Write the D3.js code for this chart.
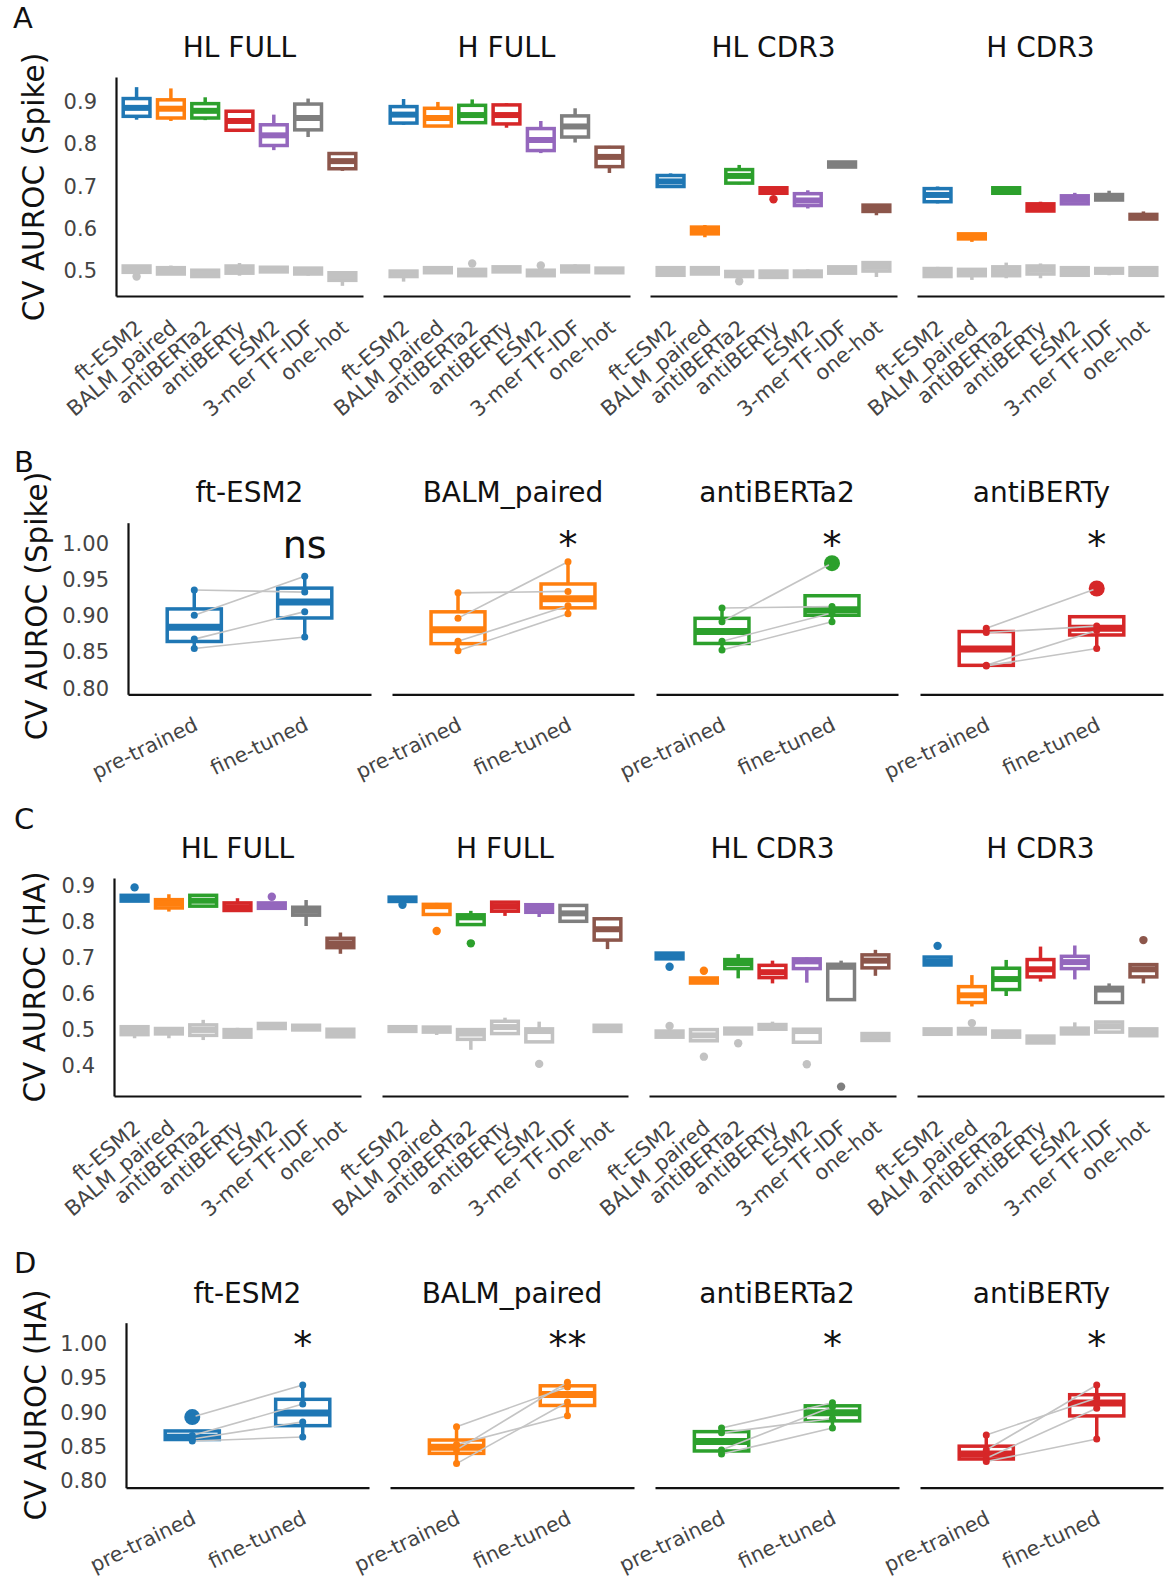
<!DOCTYPE html>
<html><head><meta charset="utf-8">
<script src="https://cdn.jsdelivr.net/npm/d3@7"></script>
<style>body{margin:0;background:#fff}svg text{font-family:"DejaVu Sans",sans-serif}</style>
</head><body><svg id="c" width="1171" height="1585"></svg>
<script>
// ---------------- DATA ----------------
const models = ["ft-ESM2","BALM_paired","antiBERTa2","antiBERTy","ESM2","3-mer TF-IDF","one-hot"];
const regions = ["HL FULL","H FULL","HL CDR3","H CDR3"];
const palette = ["#1f77b4","#ff7f0e","#2ca02c","#d62728","#9467bd","#7f7f7f","#8c564b"];
const nullColor = "#c2c2c2";
const lmModels = ["ft-ESM2","BALM_paired","antiBERTa2","antiBERTy"];
const stages = ["pre-trained","fine-tuned"];
const spikeTicks = [0.5,0.6,0.7,0.8,0.9];
const haTicks = [0.4,0.5,0.6,0.7,0.8,0.9];
const pairTicks = [0.80,0.85,0.90,0.95,1.00];

// box summaries: [low whisker, q1, median, q3, high whisker, outliers]
// Panel A (Spike), real labels
const spikeHLFull = [[0.858,0.866,0.886,0.908,0.935,[]],[0.855,0.862,0.884,0.905,0.932,[]],[0.857,0.862,0.879,0.896,0.911,[]],[0.830,0.833,0.855,0.878,0.880,[]],[0.786,0.797,0.821,0.846,0.870,[]],[0.817,0.834,0.862,0.895,0.908,[]],[0.737,0.742,0.760,0.778,0.781,[]]];
const spikeHFull = [[0.846,0.850,0.870,0.889,0.907,[]],[0.843,0.843,0.862,0.885,0.900,[]],[0.851,0.851,0.869,0.892,0.906,[]],[0.839,0.848,0.869,0.893,0.897,[]],[0.779,0.785,0.810,0.837,0.855,[]],[0.804,0.817,0.842,0.867,0.885,[]],[0.732,0.747,0.770,0.793,0.796,[]]];
const spikeHLCDR3 = [[0.700,0.700,0.712,0.726,0.731,[]],[0.580,0.588,0.596,0.604,0.609,[]],[0.705,0.708,0.725,0.740,0.751,[]],[0.683,0.684,0.690,0.697,0.698,[0.670]],[0.648,0.655,0.667,0.683,0.691,[]],[0.745,0.746,0.752,0.758,0.759,[]],[0.632,0.641,0.648,0.656,0.657,[]]];
const spikeHCDR3 = [[0.660,0.664,0.680,0.695,0.700,[]],[0.569,0.576,0.581,0.588,0.589,[]],[0.683,0.684,0.690,0.697,0.698,[]],[0.641,0.642,0.650,0.659,0.664,[]],[0.658,0.659,0.669,0.678,0.685,[]],[0.667,0.668,0.675,0.681,0.690,[]],[0.622,0.623,0.629,0.634,0.641,[]]];
// Panel A (Spike), shuffled-label null
const spikeHLFullNull = [[0.497,0.497,0.505,0.512,0.512,[0.487]],[0.493,0.493,0.500,0.508,0.513,[]],[0.486,0.487,0.494,0.502,0.503,[]],[0.489,0.495,0.503,0.512,0.519,[]],[0.497,0.498,0.503,0.509,0.511,[]],[0.489,0.493,0.500,0.507,0.508,[]],[0.465,0.478,0.487,0.496,0.497,[]]];
const spikeHFullNull = [[0.475,0.487,0.494,0.500,0.502,[]],[0.495,0.496,0.502,0.508,0.509,[]],[0.488,0.489,0.497,0.504,0.505,[0.518]],[0.497,0.498,0.504,0.510,0.511,[]],[0.488,0.489,0.495,0.502,0.503,[0.513]],[0.497,0.498,0.506,0.512,0.516,[]],[0.495,0.496,0.501,0.507,0.508,[]]];
const spikeHLCDR3Null = [[0.487,0.490,0.498,0.508,0.510,[]],[0.492,0.493,0.500,0.508,0.509,[]],[0.486,0.487,0.493,0.499,0.500,[0.476]],[0.484,0.485,0.492,0.500,0.501,[]],[0.486,0.487,0.492,0.500,0.504,[]],[0.494,0.495,0.502,0.510,0.511,[]],[0.486,0.500,0.510,0.520,0.522,[]]];
const spikeHCDR3Null = [[0.486,0.487,0.496,0.506,0.510,[]],[0.479,0.489,0.496,0.504,0.505,[]],[0.483,0.489,0.500,0.510,0.520,[]],[0.483,0.493,0.503,0.512,0.518,[]],[0.489,0.490,0.499,0.508,0.509,[]],[0.490,0.495,0.500,0.506,0.507,[]],[0.489,0.490,0.499,0.508,0.509,[]]];
// Panel C (HA), real labels
const haHLFull = [[0.857,0.857,0.866,0.873,0.875,[0.895]],[0.828,0.838,0.850,0.861,0.876,[]],[0.843,0.843,0.858,0.873,0.876,[]],[0.831,0.831,0.840,0.852,0.865,[]],[0.837,0.837,0.845,0.852,0.853,[0.869]],[0.788,0.818,0.830,0.840,0.860,[]],[0.711,0.728,0.740,0.754,0.770,[]]];
const haHFull = [[0.855,0.856,0.862,0.868,0.869,[0.847]],[0.820,0.820,0.843,0.848,0.852,[0.774]],[0.792,0.792,0.812,0.819,0.830,[0.740]],[0.816,0.829,0.842,0.854,0.856,[]],[0.813,0.826,0.838,0.847,0.848,[]],[0.800,0.801,0.823,0.845,0.846,[]],[0.724,0.749,0.779,0.808,0.812,[]]];
const haHLCDR3 = [[0.697,0.697,0.705,0.713,0.714,[0.675]],[0.630,0.630,0.637,0.644,0.645,[0.664]],[0.643,0.670,0.685,0.695,0.710,[]],[0.629,0.645,0.660,0.679,0.692,[]],[0.631,0.670,0.690,0.697,0.701,[]],[0.584,0.584,0.675,0.682,0.692,[0.343]],[0.650,0.672,0.692,0.708,0.722,[]]];
const haHCDR3 = [[0.678,0.680,0.690,0.702,0.704,[0.733]],[0.565,0.576,0.596,0.620,0.652,[]],[0.594,0.612,0.641,0.671,0.694,[]],[0.634,0.647,0.668,0.695,0.731,[]],[0.640,0.670,0.688,0.704,0.734,[]],[0.576,0.576,0.612,0.618,0.629,[]],[0.629,0.647,0.668,0.681,0.685,[0.749]]];
// Panel C (HA), shuffled-label null (null = not shown)
const haHLFullNull = [[0.477,0.487,0.498,0.509,0.510,[]],[0.477,0.489,0.497,0.504,0.506,[]],[0.472,0.485,0.500,0.514,0.528,[]],[0.478,0.480,0.490,0.501,0.506,[]],[0.503,0.504,0.511,0.518,0.519,[]],[0.499,0.500,0.507,0.513,0.514,[]],[0.480,0.481,0.491,0.502,0.503,[]]];
const haHFullNull = [[0.495,0.496,0.503,0.509,0.510,[]],[0.486,0.494,0.500,0.508,0.509,[]],[0.445,0.474,0.490,0.501,0.502,[]],[0.489,0.490,0.508,0.524,0.534,[]],[0.466,0.467,0.497,0.503,0.523,[0.406]],null,[0.495,0.496,0.505,0.513,0.514,[]]];
const haHLCDR3Null = [[0.480,0.480,0.488,0.497,0.498,[0.511]],[0.470,0.470,0.485,0.501,0.505,[0.426]],[0.489,0.489,0.497,0.505,0.506,[0.463]],[0.502,0.502,0.510,0.515,0.523,[]],[0.466,0.466,0.497,0.502,0.503,[0.405]],null,[0.471,0.471,0.481,0.490,0.491,[]]];
const haHCDR3Null = [[0.486,0.488,0.496,0.503,0.504,[]],[0.488,0.489,0.497,0.504,0.505,[0.519]],[0.477,0.480,0.488,0.497,0.498,[]],[0.461,0.464,0.473,0.483,0.484,[]],[0.488,0.489,0.497,0.505,0.521,[]],[0.491,0.494,0.510,0.522,0.523,[]],[0.483,0.484,0.494,0.503,0.504,[]]];

// Panels B & D: per-fold CV AUROC, paired by index (pre-trained -> fine-tuned)
const spikePre  = [[0.936,0.901,0.868,0.855],[0.932,0.897,0.865,0.852],[0.911,0.892,0.865,0.853],[0.883,0.877,0.832,0.831]];
const spikeFine = [[0.933,0.955,0.906,0.871],[0.934,0.975,0.914,0.903],[0.913,0.973,0.904,0.892],[0.938,0.886,0.880,0.855]];
const spikeSig = ["ns","*","*","*"];
const haPre  = [[0.893,0.866,0.861,0.858],[0.879,0.845,0.853,0.825],[0.877,0.870,0.845,0.839],[0.867,0.845,0.833,0.828]];
const haFine = [[0.940,0.912,0.886,0.864],[0.937,0.944,0.895,0.915],[0.914,0.891,0.908,0.877],[0.921,0.940,0.906,0.861]];
const haSig = ["*","**","*","*"];

// ---------------- DRAWING ----------------
const svg = d3.select("#c");
const FONT = '"DejaVu Sans", sans-serif';

function drawBox(g, cx, w, s, color, y, sw, mw, rOut) {
  const [lo,q1,med,q3,hi,outs] = s;
  const ln = (x1,y1,x2,y2,wd)=>g.append("line").attr("x1",x1).attr("y1",y1).attr("x2",x2).attr("y2",y2)
      .attr("stroke",color).attr("stroke-width",wd);
  if (hi > q3) ln(cx,y(q3),cx,y(hi),sw);
  if (lo < q1) ln(cx,y(q1),cx,y(lo),sw);
  g.append("rect").attr("x",cx-w/2).attr("y",y(q3)).attr("width",w).attr("height",Math.max(0,y(q1)-y(q3)))
    .attr("fill","none").attr("stroke",color).attr("stroke-width",sw);
  ln(cx-w/2,y(med),cx+w/2,y(med),mw);
  outs.forEach(o=>g.append("circle").attr("cx",cx).attr("cy",y(o)).attr("r",rOut).attr("fill",color));
}

function boxStats(vals) {
  const v = vals.slice().sort(d3.ascending);
  const q1 = d3.quantile(v,0.25), med = d3.quantile(v,0.5), q3 = d3.quantile(v,0.75);
  const iqr = q3-q1, lf = q1-1.5*iqr, hf = q3+1.5*iqr;
  const inside = v.filter(d=>d>=lf && d<=hf);
  return [d3.min(inside), q1, med, q3, d3.max(inside), v.filter(d=>d<lf||d>hf)];
}

function styleAxis(ax, size) {
  ax.attr("font-family",FONT).attr("font-size",size);
  ax.select(".domain").attr("stroke","#111").attr("stroke-width",2.2);
  ax.selectAll("text").attr("fill","#444");
}

function letter(t, x, yb) {
  svg.append("text").attr("x",x).attr("y",yb).attr("font-size",29).attr("fill","#111").text(t);
}
function ylabel(t, cx, cy) {
  svg.append("text").attr("transform",`translate(${cx},${cy}) rotate(-90)`).attr("text-anchor","middle")
    .attr("dominant-baseline","central").attr("font-size",29.5).attr("fill","#111").text(t);
}

function gridPanel(cfg) {
  const y = d3.scaleLinear().domain(cfg.dom).range(cfg.yr);
  regions.forEach((reg,k)=>{
    const x = d3.scaleBand().domain(models).range(cfg.xr[k]).paddingInner(0).paddingOuter(0.1);
    const g = svg.append("g");
    const ax = g.append("g").attr("transform",`translate(0,${cfg.yr[0]})`)
      .call(d3.axisBottom(x).tickSize(0).tickSizeOuter(0));
    styleAxis(ax, 21);
    ax.selectAll("text").attr("y",0).attr("dy",null).attr("text-anchor","end")
      .attr("transform","translate(7.5,34) rotate(-40)");
    if (k===0) {
      const ay = g.append("g").attr("transform",`translate(${cfg.xr[0][0]},0)`)
        .call(d3.axisLeft(y).tickValues(cfg.ticks).tickSize(0).tickSizeOuter(0).tickPadding(19).tickFormat(d3.format(".1f")));
      styleAxis(ay, 21);
    }
    const w = x.bandwidth()*0.78;
    cfg.nulls[k].forEach((s,i)=>{ if(s) drawBox(g, x(models[i])+x.bandwidth()/2, w, s, nullColor, y, 3.5, 6, 4.2); });
    cfg.reals[k].forEach((s,i)=>{ if(s) drawBox(g, x(models[i])+x.bandwidth()/2, w, s, palette[i], y, 3.5, 6, 4.2); });
    g.append("text").attr("x",(cfg.xr[k][0]+cfg.xr[k][1])/2).attr("y",cfg.titleY).attr("text-anchor","middle")
      .attr("font-size",28).attr("fill","#111").text(reg);
  });
}

function pairPanel(cfg) {
  const y = d3.scaleLinear().domain(cfg.dom).range(cfg.yr);
  lmModels.forEach((m,k)=>{
    const x = d3.scaleBand().domain(stages).range(cfg.xr[k]).paddingInner(0).paddingOuter(0.1);
    const xc = s=>x(s)+x.bandwidth()/2;
    const g = svg.append("g");
    const ax = g.append("g").attr("transform",`translate(0,${cfg.yr[0]})`)
      .call(d3.axisBottom(x).tickSize(0).tickSizeOuter(0));
    styleAxis(ax, 20.5);
    ax.selectAll("text").attr("y",0).attr("dy",null).attr("text-anchor","end")
      .attr("transform","translate(5,35) rotate(-26)");
    if (k===0) {
      const ay = g.append("g").attr("transform",`translate(${cfg.xr[0][0]},0)`)
        .call(d3.axisLeft(y).tickValues(pairTicks).tickSize(0).tickSizeOuter(0).tickPadding(19).tickFormat(d3.format(".2f")));
      styleAxis(ay, 21);
    }
    const c = palette[k];
    const pre = cfg.pre[k], fine = cfg.fine[k];
    const w = x.bandwidth()*0.49;
    drawBox(g, xc(stages[0]), w, boxStats(pre), c, y, 3.5, 7, 8);
    drawBox(g, xc(stages[1]), w, boxStats(fine), c, y, 3.5, 7, 8);
    pre.forEach((v,i)=>g.append("line").attr("x1",xc(stages[0])).attr("y1",y(v)).attr("x2",xc(stages[1])).attr("y2",y(fine[i]))
      .attr("stroke","#c4c4c4").attr("stroke-width",1.6));
    [[stages[0],pre],[stages[1],fine]].forEach(([s,vals])=>vals.forEach(v=>
      g.append("circle").attr("cx",xc(s)).attr("cy",y(v)).attr("r",3.5).attr("fill",c)));
    g.append("text").attr("x",xc(stages[1])).attr("y",y(0.98)).attr("text-anchor","middle")
      .attr("font-size",38).attr("fill","#111").text(cfg.sig[k]);
    g.append("text").attr("x",(cfg.xr[k][0]+cfg.xr[k][1])/2).attr("y",cfg.titleY).attr("text-anchor","middle")
      .attr("font-size",28).attr("fill","#111").text(m);
  });
}

// Panel A
gridPanel({xr:[[116,363],[383,630],[650,897],[917,1164]], yr:[296,77], dom:[0.441,0.959], ticks:spikeTicks,
  reals:[spikeHLFull,spikeHFull,spikeHLCDR3,spikeHCDR3], nulls:[spikeHLFullNull,spikeHFullNull,spikeHLCDR3Null,spikeHCDR3Null], titleY:57});
letter("A",13,28); ylabel("CV AUROC (Spike)",34,187);

// Panel B
pairPanel({xr:[[128,371],[392,634],[656,898],[920,1163]], yr:[694.3,522.7], dom:[0.7917,1.029],
  pre:spikePre, fine:spikeFine, sig:spikeSig, titleY:502});
letter("B",14,472); ylabel("CV AUROC (Spike)",37,606);

// Panel C
gridPanel({xr:[[114,361],[382,628],[649,896],[917,1164]], yr:[1096,878], dom:[0.317,0.921], ticks:haTicks,
  reals:[haHLFull,haHFull,haHLCDR3,haHCDR3], nulls:[haHLFullNull,haHFullNull,haHLCDR3Null,haHCDR3Null], titleY:858});
letter("C",14,829); ylabel("CV AUROC (HA)",35,987);

// Panel D
pairPanel({xr:[[126,369],[390,634],[655,899],[920,1163]], yr:[1487.7,1322.7], dom:[0.7898,1.031],
  pre:haPre, fine:haFine, sig:haSig, titleY:1303});
letter("D",14,1273); ylabel("CV AUROC (HA)",36,1405);
</script></body></html>
